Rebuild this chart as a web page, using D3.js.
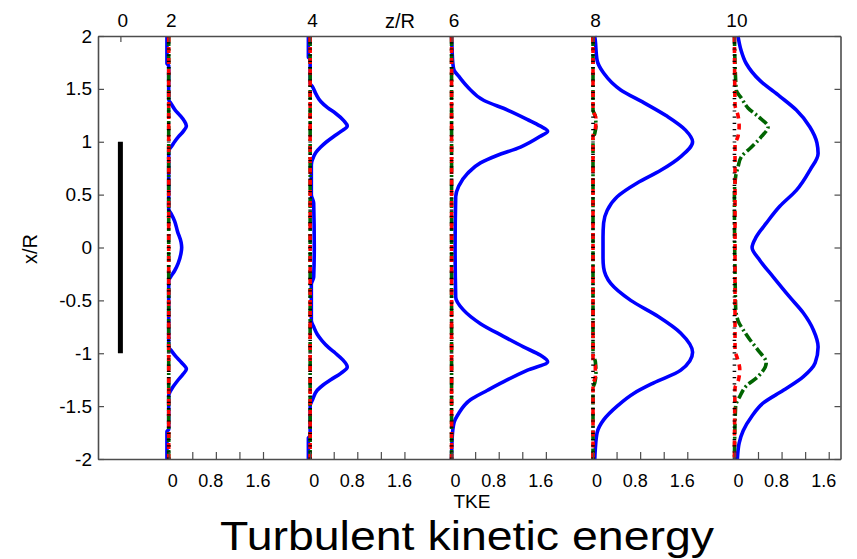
<!DOCTYPE html>
<html>
<head>
<meta charset="utf-8">
<script src="https://cdn.jsdelivr.net/npm/d3@7"></script>
<style>
  html, body { margin: 0; padding: 0; background: #fff; }
  text { font-family: "Liberation Sans", Arial, sans-serif; fill: #000; }
</style>
</head>
<body>
<div id="chart"></div>
<script>
// ---------- data ----------
const stationsZR = [2, 4, 6, 8, 10];              // z/R of each profile
const stationOffsets = [0, 2.4, 4.8, 7.2, 9.6];    // TKE-axis offset of each profile
const rotorPos = -0.82;                            // position of the z/R = 0 rotor bar
const topTickLabels = ["0", "2", "4", "6", "8", "10"];
const topTickPos = [rotorPos, 0, 2.4, 4.8, 7.2, 9.6];
const yTicks = [2, 1.5, 1, 0.5, 0, -0.5, -1, -1.5, -2];
const bottomMinorTicks = [0, 0.4, 0.8, 1.2, 1.6];
const bottomTickLabels = [0, 0.8, 1.6];
const rotorSpan = [1, -1];

// blue (solid) TKE profiles: [x/R, TKE]
const blue2 = [[2,-0.03],[1.74,-0.03],[1.72,0],[1.40,0],[1.36,0.04],[1.30,0.11],[1.25,0.19],[1.20,0.26],[1.15,0.30],[1.10,0.25],[1.05,0.17],[1.00,0.10],[0.95,0.04],[0.92,0],[0.36,0],[0.32,0.04],[0.25,0.10],[0.15,0.15],[0.05,0.21],[0.0,0.22],[-0.05,0.21],[-0.15,0.16],[-0.22,0.10],[-0.28,0.03],[-0.31,0],[-0.94,0],[-0.98,0.05],[-1.03,0.12],[-1.09,0.22],[-1.15,0.30],[-1.20,0.24],[-1.26,0.15],[-1.32,0.07],[-1.38,0.01],[-1.40,0],[-1.72,0],[-1.74,-0.03],[-2,-0.03]];
const blue4 = [[2,-0.03],[1.80,-0.03],[1.78,0],[1.55,0],[1.52,0.04],[1.45,0.10],[1.38,0.18],[1.32,0.30],[1.27,0.43],[1.20,0.57],[1.15,0.63],[1.10,0.53],[1.05,0.40],[1.00,0.28],[0.95,0.18],[0.90,0.10],[0.86,0.06],[0.78,0.02],[0.5,0.02],[0.42,0.06],[0.0,0.07],[-0.28,0.06],[-0.35,0.02],[-0.69,0.02],[-0.75,0.06],[-0.82,0.12],[-0.88,0.20],[-0.95,0.32],[-1.00,0.43],[-1.06,0.55],[-1.13,0.63],[-1.19,0.52],[-1.25,0.35],[-1.30,0.22],[-1.35,0.12],[-1.44,0.04],[-1.5,0],[-1.78,0],[-1.80,-0.03],[-2,-0.03]];
const blue6 = [[2,0],[1.85,0.01],[1.75,0.02],[1.68,0.04],[1.62,0.12],[1.52,0.27],[1.39,0.55],[1.30,0.95],[1.21,1.29],[1.15,1.50],[1.10,1.63],[1.05,1.50],[0.95,1.17],[0.87,0.77],[0.80,0.49],[0.70,0.27],[0.58,0.12],[0.48,0.07],[0,0.06],[-0.47,0.07],[-0.59,0.20],[-0.72,0.49],[-0.84,0.88],[-0.94,1.22],[-1.02,1.51],[-1.08,1.63],[-1.16,1.29],[-1.25,0.95],[-1.35,0.61],[-1.44,0.32],[-1.57,0.12],[-1.66,0.04],[-1.8,0.01],[-2,0]];
const blue8 = [[2,0.03],[1.95,0.04],[1.77,0.07],[1.65,0.18],[1.49,0.47],[1.37,0.86],[1.24,1.26],[1.11,1.57],[1.00,1.69],[0.86,1.49],[0.73,1.15],[0.61,0.75],[0.48,0.41],[0.35,0.24],[0.23,0.18],[0.1,0.17],[-0.1,0.17],[-0.19,0.18],[-0.34,0.30],[-0.50,0.64],[-0.65,1.10],[-0.81,1.49],[-0.99,1.69],[-1.16,1.49],[-1.28,1.03],[-1.38,0.69],[-1.50,0.41],[-1.63,0.18],[-1.75,0.07],[-1.9,0.04],[-2,0.03]];
const blue10 = [[2,0.06],[1.87,0.11],[1.74,0.20],[1.58,0.43],[1.43,0.77],[1.30,1.05],[1.14,1.28],[0.99,1.40],[0.89,1.42],[0.73,1.28],[0.54,1.05],[0.39,0.77],[0.23,0.54],[0.10,0.37],[0.0,0.30],[-0.12,0.43],[-0.28,0.66],[-0.47,0.94],[-0.62,1.17],[-0.78,1.34],[-0.94,1.42],[-1.09,1.37],[-1.22,1.17],[-1.35,0.83],[-1.47,0.49],[-1.60,0.29],[-1.73,0.15],[-1.85,0.08],[-2,0.05]];

// green (dash-dot) profiles
const flat = [[2,0],[-2,0]];
const green8 = [[2,0],[1.3,0],[1.24,0.04],[1.15,0.05],[1.08,0.03],[1.02,0],[-1.0,0],[-1.08,0.04],[-1.18,0.05],[-1.28,0.03],[-1.33,0],[-2,0]];
const green10 = [[2,0],[1.49,0.03],[1.41,0.12],[1.32,0.23],[1.24,0.40],[1.14,0.57],[1.05,0.46],[0.95,0.29],[0.86,0.12],[0.76,0.06],[0.67,0.02],[0.5,0],[-0.56,0.02],[-0.69,0.06],[-0.78,0.15],[-0.87,0.26],[-0.97,0.40],[-1.09,0.54],[-1.22,0.40],[-1.31,0.20],[-1.41,0.09],[-1.50,0.02],[-2,0]];
// red (dashed) profiles
const red8 = [[2,0],[1.3,0],[1.22,0.05],[1.12,0.04],[1.05,0],[-1.05,0],[-1.12,0.04],[-1.22,0.04],[-1.3,0],[-2,0]];
const red10 = [[2,0],[1.35,0.01],[1.25,0.06],[1.15,0.08],[1.05,0.06],[0.97,0.01],[-0.97,0.01],[-1.05,0.05],[-1.15,0.09],[-1.25,0.07],[-1.33,0.01],[-2,0]];

const blueProfiles = [blue2, blue4, blue6, blue8, blue10];
const greenProfiles = [flat, flat, flat, green8, green10];
const redProfiles = [flat, flat, flat, red8, red10];
const blackProfiles = [flat, flat, flat, flat, flat];

// ---------- layout ----------
const W = 857, H = 559;
const svg = d3.select("#chart").append("svg").attr("width", W).attr("height", H)
  .style("background", "#fff");

const x = d3.scaleLinear().domain([-1.2, 11.4]).range([98, 840.5]);
const y = d3.scaleLinear().domain([-2, 2]).range([459, 36]);

const frameColor = "#4d4d4d";
const FONT = '"Liberation Sans", Arial, sans-serif';

// profiles
const gLines = svg.append("g");
function drawProfiles(list, color, width, dash) {
  list.forEach((prof, i) => {
    const off = stationOffsets[i];
    const line = d3.line()
      .x(d => x(off + d[1]))
      .y(d => y(d[0]))
      .curve(d3.curveMonotoneY);
    gLines.append("path")
      .attr("d", line(prof))
      .attr("fill", "none")
      .attr("stroke", color)
      .attr("stroke-width", width)
      .attr("stroke-dasharray", dash)
      .attr("stroke-linejoin", "round");
  });
}
drawProfiles(blueProfiles, "#0000ff", 3.6, null);
drawProfiles(greenProfiles, "#006400", 3.6, "10,3,2,3");
drawProfiles(redProfiles, "#ff0000", 3.6, "6,5");
drawProfiles(blackProfiles, "#000000", 3.6, "1.2,5");

// rotor bar
svg.append("line")
  .attr("x1", x(rotorPos)).attr("x2", x(rotorPos))
  .attr("y1", y(rotorSpan[0])).attr("y2", y(rotorSpan[1]))
  .attr("stroke", "#000").attr("stroke-width", 5);

// axes
const fontSize = 19;
const yAxisL = d3.axisLeft(y).tickValues(yTicks).tickSizeInner(-6).tickSizeOuter(0)
  .tickPadding(6).tickFormat(d => String(d));
const gL = svg.append("g").attr("transform", `translate(${x.range()[0]},0)`).call(yAxisL);
gL.selectAll("text").attr("font-size", fontSize).attr("font-family", FONT);

const yAxisR = d3.axisRight(y).tickValues(yTicks).tickSizeInner(-6).tickSizeOuter(0).tickFormat("");
svg.append("g").attr("transform", `translate(${x.range()[1]},0)`).call(yAxisR);

const bottomTickVals = [];
stationOffsets.forEach(o => bottomMinorTicks.forEach(t => bottomTickVals.push(o + t)));
const xAxisB = d3.axisBottom(x).tickValues(bottomTickVals).tickSizeInner(-7).tickSizeOuter(0).tickFormat("");
svg.append("g").attr("transform", `translate(0,${y.range()[0]})`).call(xAxisB);

const xAxisT = d3.axisTop(x).tickValues(topTickPos).tickSizeInner(-6).tickSizeOuter(0)
  .tickPadding(9).tickFormat((d, i) => topTickLabels[i]);
const gT = svg.append("g").attr("transform", `translate(0,${y.range()[1]})`).call(xAxisT);
gT.selectAll("text").attr("font-size", fontSize).attr("font-family", FONT).attr("dx", 2);

svg.selectAll(".domain").attr("stroke", frameColor).attr("stroke-width", 1.6);
svg.selectAll(".tick line").attr("stroke", frameColor).attr("stroke-width", 1.2);

// bottom tick labels under each profile
const gBL = svg.append("g");
stationOffsets.forEach(o => {
  bottomTickLabels.forEach(t => {
    gBL.append("text")
      .attr("x", x(o + t) + (t === 0 ? 4 : -5))
      .attr("y", 487)
      .attr("text-anchor", "middle")
      .attr("font-size", 18)
      .text(String(t));
  });
});

// axis titles
svg.append("text").attr("x", 400).attr("y", 28).attr("text-anchor", "middle")
  .attr("font-size", 20).text("z/R");
svg.append("text").attr("transform", "translate(37,249) rotate(-90)")
  .attr("text-anchor", "middle").attr("font-size", 20).text("x/R");
svg.append("text").attr("x", 472).attr("y", 508).attr("text-anchor", "middle")
  .attr("font-size", 19).text("TKE");
svg.append("text").attr("x", 467).attr("y", 550).attr("text-anchor", "middle")
  .attr("font-size", 40)
  .attr("textLength", 494).attr("lengthAdjust", "spacingAndGlyphs")
  .text("Turbulent kinetic energy");
</script>
</body>
</html>
